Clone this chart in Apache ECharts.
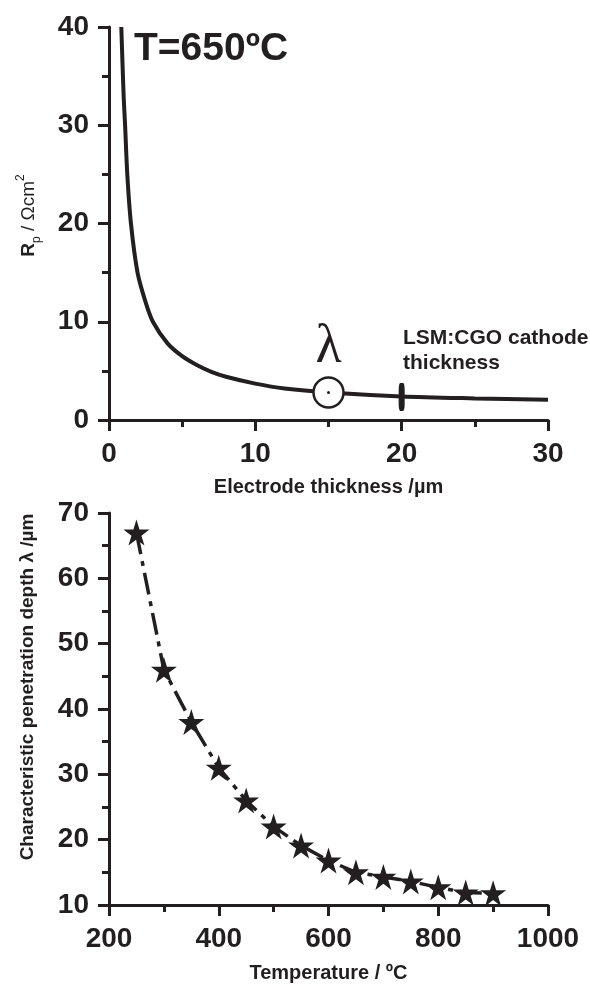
<!DOCTYPE html>
<html>
<head>
<meta charset="utf-8">
<script src="https://cdn.jsdelivr.net/npm/echarts@6/dist/echarts.min.js"></script>
<style>
  html, body { margin: 0; padding: 0; background: #fff; }
  #chart { width: 590px; height: 985px; }
</style>
</head>
<body>
<div id="chart"></div>
<script>
// top panel: Rp vs electrode thickness at 650 C
var thickness = [0.84, 1.0, 1.1, 1.25, 1.5, 1.95, 2.5, 3, 4, 5, 6, 7, 8, 10, 12, 15, 20, 25, 30];
var rp = [40, 33, 30, 25, 20, 15, 12, 10, 7.8, 6.5, 5.6, 4.9, 4.4, 3.7, 3.2, 2.8, 2.4, 2.2, 2.05];
var lambdaPoint = [15, 2.8];
var cathodePoint = [20, 2.35];

// bottom panel: penetration depth vs temperature
var temperature = [250, 300, 350, 400, 450, 500, 550, 600, 650, 700, 750, 800, 850, 900];
var depth = [67, 46, 38, 31, 26, 22, 19.1, 16.8, 15, 14.3, 13.6, 12.7, 11.9, 11.8];

var ink = '#231f20';
var font = 'Liberation Sans, Arial, sans-serif';
var star = 'path://M50,0 L61.2,34.5 L97.6,34.5 L68.2,55.9 L79.4,90.5 L50,69.1 L20.6,90.5 L31.8,55.9 L2.4,34.5 L38.8,34.5 Z';

function zip(a, b) {
  var out = [];
  for (var i = 0; i < a.length; i++) out.push([a[i], b[i]]);
  return out;
}

function tickLabel(margin) {
  return { color: ink, fontFamily: font, fontWeight: 'bold', fontSize: 28, margin: margin,
    formatter: function (v) { return String(v); } };
}

function axis(extra) {
  var base = {
    type: 'value',
    splitLine: { show: false },
    axisLine: { show: true, onZero: false, lineStyle: { color: ink, width: 3 } },
    axisTick: { show: true, length: 11, lineStyle: { color: ink, width: 3 } },
    minorTick: { show: true, splitNumber: 2, length: 7, lineStyle: { color: ink, width: 3 } },
    nameLocation: 'middle',
    nameMoveOverlap: false,
    nameTextStyle: { color: ink, fontFamily: font, fontWeight: 'bold', fontSize: 20 }
  };
  return Object.assign(base, extra);
}

var instance = echarts.init(document.getElementById('chart'));

var option = {
  animation: false,
  backgroundColor: '#fff',
  grid: [
    { left: 109, right: 42, top: 27, height: 393, outerBoundsMode: 'none' },
    { left: 109, right: 42, top: 513, height: 392, outerBoundsMode: 'none' }
  ],
  xAxis: [
    axis({ gridIndex: 0, min: 0, max: 30, interval: 10, axisLabel: tickLabel(20),
      name: 'Electrode thickness /\u00b5m', nameGap: 57 }),
    axis({ gridIndex: 1, min: 200, max: 1000, interval: 200, axisLabel: tickLabel(20),
      name: 'Temperature / \u00baC', nameGap: 58 })
  ],
  yAxis: [
    axis({ gridIndex: 0, min: 0, max: 40, interval: 10, axisLabel: tickLabel(20),
      name: '{b|R}{sub|p}{n| / \u03a9cm}{sup|2}', nameGap: 66,
      nameTextStyle: {
        color: ink, fontFamily: font, fontSize: 19, lineHeight: 28, padding: [0, 0, 0, 16],
        rich: {
          b: { fontWeight: 'bold', fontSize: 19, fontFamily: font, color: ink },
          sub: { fontSize: 12, fontFamily: font, color: ink, verticalAlign: 'bottom', lineHeight: 28 },
          n: { fontSize: 19, fontFamily: font, color: ink },
          sup: { fontSize: 12, fontFamily: font, color: ink, verticalAlign: 'top', lineHeight: 28 }
        }
      } }),
    axis({ gridIndex: 1, min: 10, max: 70, interval: 10, axisLabel: tickLabel(20),
      name: 'Characteristic penetration depth \u03bb /\u00b5m', nameGap: 72,
      nameTextStyle: { color: ink, fontFamily: font, fontWeight: 'bold', fontSize: 19, padding: [0, 0, 0, 44] } })
  ],
  graphic: [
    { type: 'text', left: 134, top: 30,
      style: { text: 'T=650\u00baC', fill: ink, font: 'bold 39px ' + font } },
    { type: 'text', left: 403, top: 326,
      style: { text: 'LSM:CGO cathode\nthickness', fill: ink, font: 'bold 21px ' + font, lineHeight: 25 } }
  ],
  series: [
    {
      type: 'line', xAxisIndex: 0, yAxisIndex: 0,
      data: zip(thickness, rp), smooth: 0.3, showSymbol: false,
      lineStyle: { color: ink, width: 4 }, z: 2
    },
    {
      type: 'scatter', xAxisIndex: 0, yAxisIndex: 0,
      data: [cathodePoint], symbol: 'roundRect', symbolSize: [6, 28],
      itemStyle: { color: ink, opacity: 1 }, z: 3
    },
    {
      type: 'scatter', xAxisIndex: 0, yAxisIndex: 0,
      data: [lambdaPoint], symbol: 'circle', symbolSize: 30,
      itemStyle: { color: '#fff', borderColor: ink, borderWidth: 2.5, opacity: 1 },
      label: { show: true, position: 'top', distance: 1, formatter: '\u03bb',
        color: ink, fontFamily: 'Liberation Serif, DejaVu Serif, serif', fontSize: 54 },
      z: 4
    },
    {
      type: 'scatter', xAxisIndex: 0, yAxisIndex: 0,
      data: [lambdaPoint], symbol: 'circle', symbolSize: 3,
      itemStyle: { color: ink, opacity: 1 }, z: 5
    },
    {
      type: 'line', xAxisIndex: 1, yAxisIndex: 1,
      data: zip(temperature, depth), symbol: star, symbolSize: 26,
      itemStyle: { color: ink, opacity: 1 },
      lineStyle: { color: ink, width: 3.5, type: [22, 7, 5, 7] }
    }
  ]
};
option && instance.setOption(option);

window.onresize = function () {
  instance.resize();
};
</script>
</body>
</html>
